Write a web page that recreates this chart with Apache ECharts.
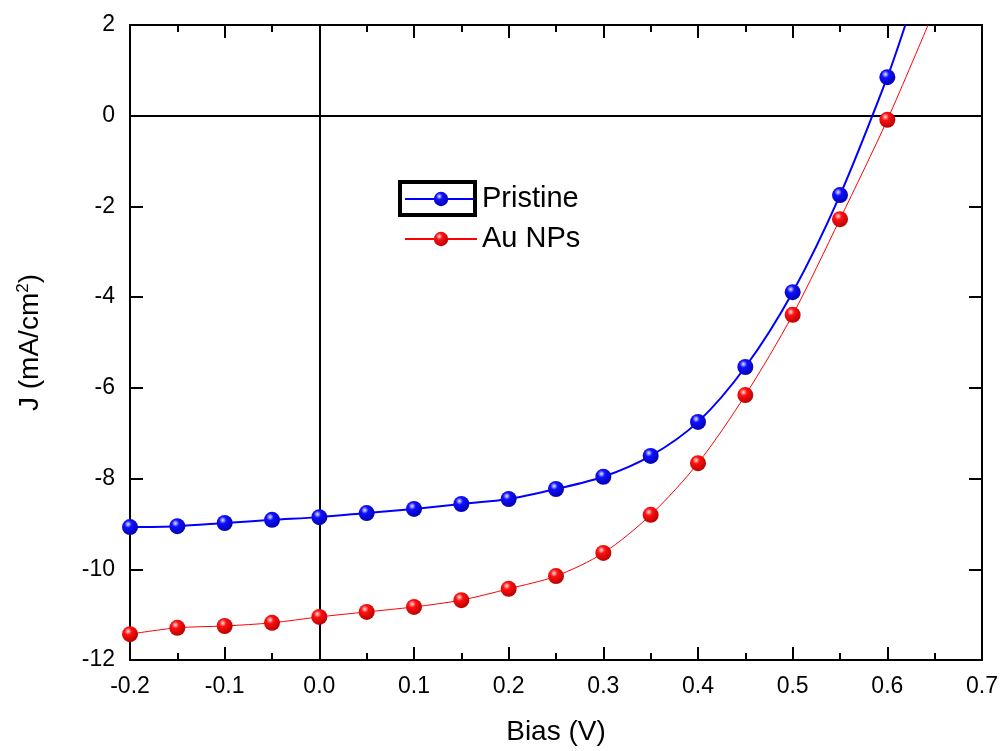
<!DOCTYPE html>
<html>
<head>
<meta charset="utf-8">
<script src="https://cdn.jsdelivr.net/npm/echarts@6/dist/echarts.min.js"></script>
<style>
  html, body { margin: 0; padding: 0; background: #fff; }
  #chart { width: 1001px; height: 751px; }
</style>
</head>
<body>
<div id="chart"></div>
<script>
// bias points (V)
var bias = [-0.2, -0.15, -0.1, -0.05, 0, 0.05, 0.1, 0.15, 0.2, 0.25, 0.3, 0.35, 0.4, 0.45, 0.5, 0.55, 0.6];
// current density (mA/cm2)
var pristine = [-9.07, -9.05, -8.98, -8.91, -8.85, -8.76, -8.67, -8.56, -8.45, -8.23, -7.96, -7.50, -6.75, -5.54, -3.89, -1.75, 0.85];
var auNPs = [-11.43, -11.29, -11.25, -11.18, -11.05, -10.94, -10.83, -10.68, -10.43, -10.15, -9.64, -8.80, -7.66, -6.16, -4.39, -2.28, -0.09];
// where each curve leaves the top of the frame (J = 2)
var pristineEnd = [0.619, 2];
var auNPsEnd = [0.643, 2];
var xTicks = { min: -0.2, max: 0.7, step: 0.1 };
var yTicks = { min: -12, max: 2, step: 2 };

var fontName = 'Liberation Sans, Arial, sans-serif';

function sphere(c0, c1, c2) {
    return {
        type: 'radial', x: 0.38, y: 0.32, r: 0.75,
        colorStops: [
            { offset: 0, color: c0 },
            { offset: 0.3, color: c1 },
            { offset: 1, color: c2 }
        ]
    };
}

function pairs(xs, ys, end) {
    var out = [];
    for (var i = 0; i < xs.length; i++) {
        out.push([xs[i], ys[i]]);
    }
    out.push({ value: end, symbol: 'none' });
    return out;
}

var chart = echarts.init(document.getElementById('chart'));

var axisLine = { show: true, onZero: false, lineStyle: { color: '#000', width: 2 } };
var majorTick = { show: true, inside: true, length: 13, lineStyle: { color: '#000', width: 2 } };
var minorTick = { show: true, splitNumber: 2, length: 7, lineStyle: { color: '#000', width: 2 } };

var option = {
    backgroundColor: '#fff',
    animation: false,
    textStyle: { fontFamily: fontName },
    grid: { left: 130, top: 25, right: 19, bottom: 91, containLabel: false },
    legend: {
        orient: 'vertical',
        left: 404,
        top: 184,
        padding: 0,
        itemWidth: 72,
        itemHeight: 18,
        itemGap: 10,
        data: ['Pristine', 'Au NPs'],
        textStyle: { fontSize: 29, lineHeight: 30, color: '#000', fontFamily: fontName }
    },
    graphic: [{
        type: 'rect',
        shape: { x: 400, y: 182, width: 75, height: 33 },
        style: { fill: 'none', stroke: '#000', lineWidth: 4 },
        z: 100
    }],
    xAxis: [{
        type: 'value',
        min: xTicks.min,
        max: xTicks.max,
        interval: xTicks.step,
        name: 'Bias (V)',
        nameLocation: 'middle',
        nameGap: 58,
        nameTextStyle: { fontSize: 28, color: '#000', fontFamily: fontName },
        axisLine: axisLine,
        axisTick: majorTick,
        minorTick: minorTick,
        axisLabel: {
            fontSize: 23, color: '#000', margin: 15,
            formatter: function (v) { return v.toFixed(1); }
        },
        splitLine: { show: false }
    }, {
        type: 'value',
        position: 'top',
        min: xTicks.min,
        max: xTicks.max,
        interval: xTicks.step,
        axisLine: axisLine,
        axisTick: majorTick,
        minorTick: minorTick,
        axisLabel: { show: false },
        splitLine: { show: false }
    }],
    yAxis: [{
        type: 'value',
        min: yTicks.min,
        max: yTicks.max,
        interval: yTicks.step,
        name: 'J (mA/cm{sup|2})',
        nameLocation: 'middle',
        nameGap: 84,
        nameRotate: 90,
        nameTextStyle: {
            fontSize: 28, color: '#000', fontFamily: fontName,
            rich: { sup: { fontSize: 17, verticalAlign: 'top', padding: [0, 0, 14, 0], color: '#000' } }
        },
        axisLine: axisLine,
        axisTick: majorTick,
        axisLabel: { fontSize: 23, color: '#000', margin: 15 },
        splitLine: { show: false }
    }, {
        type: 'value',
        position: 'right',
        min: yTicks.min,
        max: yTicks.max,
        interval: yTicks.step,
        axisLine: axisLine,
        axisTick: majorTick,
        axisLabel: { show: false },
        splitLine: { show: false }
    }],
    series: [{
        name: 'Pristine',
        type: 'line',
        smooth: 0.3,
        symbol: 'circle',
        symbolSize: 16,
        clip: true,
        lineStyle: { color: '#0000ff', width: 2 },
        itemStyle: { color: sphere('#e8e8ff', '#1010ff', '#0000a8') },
        data: pairs(bias, pristine, pristineEnd),
        z: 3,
        markLine: {
            silent: true,
            symbol: 'none',
            label: { show: false },
            lineStyle: { color: '#000', width: 2, type: 'solid' },
            data: [{ yAxis: 0 }, { xAxis: 0 }],
            z: 1
        }
    }, {
        name: 'Au NPs',
        type: 'line',
        smooth: 0.3,
        symbol: 'circle',
        symbolSize: 16,
        clip: true,
        lineStyle: { color: '#ff0000', width: 1 },
        itemStyle: { color: sphere('#ffe0e0', '#ff1010', '#b00000') },
        data: pairs(bias, auNPs, auNPsEnd),
        z: 3
    }]
};

chart.setOption(option);
</script>
</body>
</html>
